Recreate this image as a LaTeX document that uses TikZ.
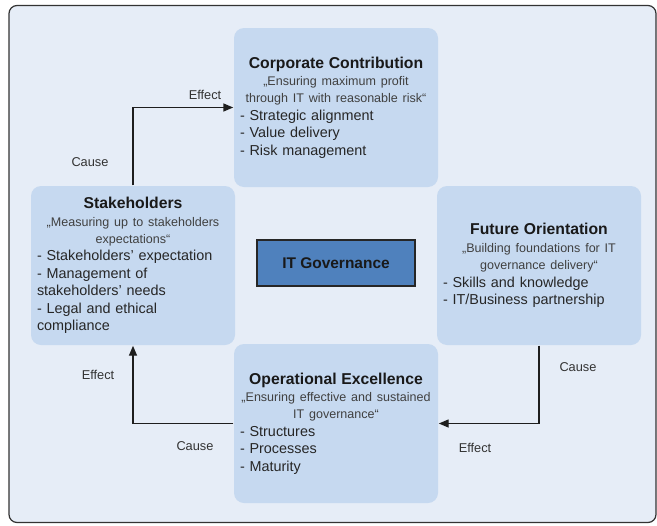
\documentclass[tikz,border=0pt]{standalone}
\usepackage{fontspec}
\setmainfont{Liberation Sans}
\usepackage{tikz}
\usetikzlibrary{arrows.meta,positioning}
\definecolor{framefill}{HTML}{E6EDF7}
\definecolor{boxfill}{HTML}{C6D9F0}
\definecolor{govfill}{HTML}{4F81BD}
\definecolor{linecol}{HTML}{1E1E1E}
\newcommand{\boxtitle}[1]{{\fontsize{11.8}{13.1}\selectfont\bfseries\color{black!90}#1}}
\newcommand{\boxquote}[1]{\mbox{\fontsize{9.4}{13.1}\selectfont\color{black!75}#1}}
\newcommand{\boxitem}[1]{\makebox[\linewidth][l]{#1}}

\begin{document}
\begin{tikzpicture}[x=0.75pt,y=-0.75pt,>={Triangle[length=7.5pt,width=6pt]},line width=1.1pt]
 \tikzstyle{area}=[fill=boxfill,rounded corners=7.5pt,minimum width=153pt,minimum height=119.25pt,text width=144pt,align=center,inner sep=0pt,font=\fontsize{10.8}{13.1}\selectfont,text=black!85]
 \tikzstyle{tag}=[font=\fontsize{9.6}{11}\selectfont,text=black!80,inner sep=0pt]

 \useasboundingbox (0,0) rectangle (657,525);
 % outer frame
 \draw[draw=black!80,fill=framefill,line width=0.9pt,rounded corners=6pt] (9,5.5) rectangle (656,522.5);

 \node[area] (corp) at (336,107.5) {\boxtitle{Corporate Contribution}\\
  \boxquote{„Ensuring maximum profit}\\
  \boxquote{through IT with reasonable risk“}\\
  \boxitem{- Strategic alignment}\\
  \boxitem{- Value delivery}\\
  \boxitem{- Risk management}};
 \node[area] (stake) at (133,265.5) {\boxtitle{Stakeholders}\\
  \boxquote{„Measuring up to stakeholders}\\
  \boxquote{expectations“}\\
  \boxitem{- Stakeholders’ expectation}\\
  \boxitem{- Management of}\\
  \boxitem{stakeholders’ needs}\\
  \boxitem{- Legal and ethical}\\
  \boxitem{compliance}};
 \node[area] (future) at (539,265.5) {\boxtitle{Future Orientation}\\
  \boxquote{„Building foundations for IT}\\
  \boxquote{governance delivery“}\\
  \boxitem{- Skills and knowledge}\\
  \boxitem{- IT/Business partnership}};
 \node[area] (oper) at (336,423.5) {\boxtitle{Operational Excellence}\\
  \boxquote{„Ensuring effective and sustained}\\
  \boxquote{IT governance“}\\
  \boxitem{- Structures}\\
  \boxitem{- Processes}\\
  \boxitem{- Maturity}};
 \node[fill=govfill,draw=black!85,line width=0.9pt,minimum width=118.5pt,minimum height=34.5pt,font=\fontsize{11.6}{13}\selectfont\bfseries,text=black!90] (gov) at (336,263) {IT Governance};

 % cause and effect
 \draw[->,draw=linecol] (stake) |- (corp);
 \draw[->,draw=linecol] (future) |- (oper);
 \draw[->,draw=linecol] (oper) -| (stake);

 \node[tag] (cause1) at (90,162) {Cause};
 \node[tag] (effect1) at (205,95) {Effect};
 \node[tag] (cause2) at (578,367) {Cause};
 \node[tag] (effect2) at (475,448) {Effect};
 \node[tag] (effect3) at (98,375) {Effect};
 \node[tag] (cause3) at (195,446) {Cause};
\end{tikzpicture}
\end{document}
